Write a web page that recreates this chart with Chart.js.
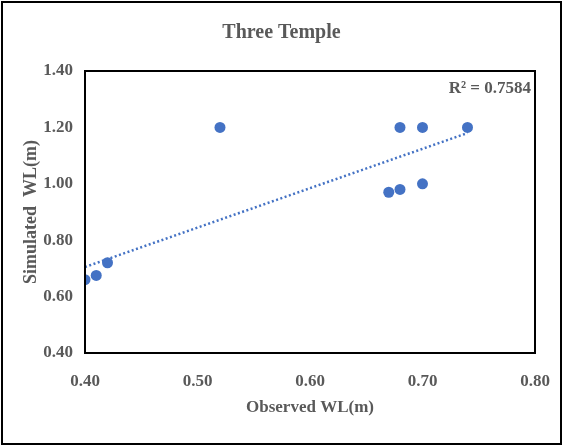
<!DOCTYPE html>
<html lang="en">
<head>
<meta charset="utf-8"/>
<title>Three Temple</title>
<script src="https://cdn.jsdelivr.net/npm/chart.js@4.4.3/dist/chart.umd.min.js"></script>
<style>
  * { box-sizing: border-box; }
  body { margin: 0; background: #fff; }
  canvas { display: block; }
</style>
</head>
<body>
<canvas id="chart" width="563" height="446"></canvas>
<script>
// observed vs simulated water level (m)
const observed  = [0.40, 0.41, 0.42, 0.52, 0.67, 0.68, 0.68, 0.70, 0.70, 0.74];
const simulated = [0.66, 0.675, 0.72, 1.20, 0.97, 0.98, 1.20, 1.00, 1.20, 1.20];
// linear trendline ends, as drawn in the reference
const trendX = [0.40, 0.74];
const trendY = [0.705, 1.18];
const xTicks = [0.40, 0.50, 0.60, 0.70, 0.80];
const yTicks = [0.40, 0.60, 0.80, 1.00, 1.20, 1.40];
const rSquared = 'R² = 0.7584';

const BLUE = '#4472C4';
const TEXT = '#595959';
const FONT = "'Liberation Serif', 'Times New Roman', serif";

const toPoints = (xs, ys) => xs.map((x, i) => ({ x, y: ys[i] }));

// frame around the whole picture, box around the plot area, R² label
const decorations = {
  id: 'decorations',
  afterDraw(chart) {
    const { ctx, chartArea: a } = chart;
    ctx.save();
    ctx.strokeStyle = '#000';
    ctx.lineWidth = 2;
    ctx.strokeRect(a.left, a.top, a.right - a.left, a.bottom - a.top);
    ctx.strokeRect(2, 2, chart.width - 4, chart.height - 4);
    ctx.fillStyle = TEXT;
    ctx.font = `bold 17px ${FONT}`;
    ctx.textAlign = 'right';
    ctx.textBaseline = 'middle';
    ctx.fillText(rSquared, a.right - 4, 89);
    ctx.restore();
  },
};

new Chart(document.getElementById('chart'), {
  type: 'scatter',
  data: {
    datasets: [
      {
        label: 'Simulated',
        data: toPoints(observed, simulated),
        backgroundColor: BLUE,
        borderColor: BLUE,
        pointRadius: 5.5,
        pointHoverRadius: 5.5,
        borderWidth: 0,
      },
      {
        label: 'Linear trend',
        data: toPoints(trendX, trendY),
        showLine: true,
        borderColor: BLUE,
        borderWidth: 2.5,
        borderDash: [2, 2.5],
        pointRadius: 0,
        fill: false,
      },
    ],
  },
  options: {
    responsive: false,
    animation: false,
    devicePixelRatio: 1,
    layout: { padding: { left: 0, right: 0, top: 0, bottom: 20 } },
    plugins: {
      legend: { display: false },
      tooltip: { enabled: false },
      title: {
        display: true,
        text: 'Three Temple',
        color: TEXT,
        font: { family: FONT, size: 20, weight: 'bold' },
        padding: { top: 21, bottom: 26 },
      },
    },
    scales: {
      x: {
        type: 'linear',
        min: 0.4,
        max: 0.8,
        afterBuildTicks: (s) => { s.ticks = xTicks.map((v) => ({ value: v })); },
        afterFit: (s) => { s.height = 73; s.paddingLeft = 0; s.paddingRight = 28; },
        grid: { display: false, drawTicks: false },
        border: { display: false },
        ticks: {
          color: TEXT,
          padding: 18,
          font: { family: FONT, size: 17, weight: 'bold' },
          callback: (v) => v.toFixed(2),
        },
        title: {
          display: true,
          text: 'Observed WL(m)',
          color: TEXT,
          font: { family: FONT, size: 17, weight: 'bold' },
          padding: { top: 4, bottom: 8 },
        },
      },
      y: {
        type: 'linear',
        min: 0.4,
        max: 1.4,
        afterBuildTicks: (s) => { s.ticks = yTicks.map((v) => ({ value: v })); },
        afterFit: (s) => { s.width = 85; },
        grid: { display: false, drawTicks: false },
        border: { display: false },
        ticks: {
          color: TEXT,
          padding: 12,
          font: { family: FONT, size: 17, weight: 'bold' },
          callback: (v) => v.toFixed(2),
        },
        title: {
          display: true,
          text: 'Simulated  WL(m)',
          color: TEXT,
          font: { family: FONT, size: 18, weight: 'bold' },
          padding: { top: 21, bottom: 0 },
        },
      },
    },
  },
  plugins: [decorations],
});
</script>
</body>
</html>
